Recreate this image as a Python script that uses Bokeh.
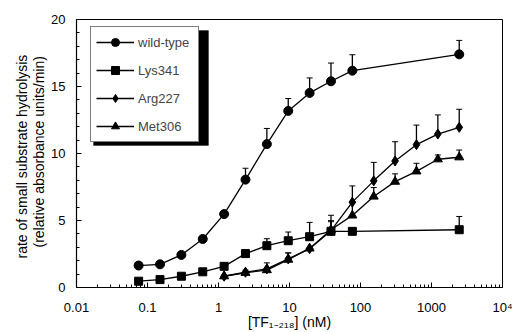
from bokeh.plotting import figure
from bokeh.models import (ColumnDataSource, Whisker, TeeHead, Legend, LegendItem,
                          FixedTicker, BoxAnnotation, Title)
from bokeh.embed import file_html
from bokeh.resources import INLINE

# ---- data ----
conc_wt = [0.075, 0.15, 0.3, 0.6, 1.2, 2.4, 4.8, 9.6, 19.2, 38.4, 76.8, 2458]
wild_type = [1.64, 1.73, 2.43, 3.62, 5.48, 8.05, 10.7, 13.18, 14.52, 15.39, 16.18, 17.4]
wild_type_err = [0, 0, 0, 0, 0, 0.85, 1.17, 0.92, 1.12, 1.36, 1.19, 1.04]

conc_lys = [0.075, 0.15, 0.3, 0.6, 1.2, 2.4, 4.8, 9.6, 19.2, 38.4, 76.8, 2458]
lys341 = [0.47, 0.59, 0.84, 1.17, 1.58, 2.53, 3.12, 3.49, 3.79, 4.19, 4.19, 4.31]
lys341_err = [0, 0, 0, 0, 0, 0, 0.52, 0.65, 1.07, 0.8, 0, 0.99]

conc_mut = [1.2, 2.4, 4.8, 9.6, 19.2, 38.4, 76.8, 153.6, 307, 614, 1229, 2458]
arg227 = [0.84, 1.14, 1.39, 2.13, 2.9, 4.24, 6.37, 7.96, 9.44, 10.66, 11.45, 11.95]
arg227_err = [0, 0.15, 0.45, 0.45, 0, 1.15, 1.21, 1.38, 1.44, 1.46, 1.43, 1.35]
met306 = [0.84, 1.1, 1.3, 2.08, 2.92, 4.31, 5.38, 6.79, 7.9, 8.67, 9.57, 9.72]
met306_err = [0, 0, 0, 0.5, 0, 0.6, 0.99, 0.67, 0.58, 0.6, 0.32, 0.54]

x_tick_values = [0.01, 0.1, 1, 10, 100, 1000, 10000]
x_tick_labels = ["0.01", "0.1", "1", "10", "100", "1000", "10\u2074"]
y_tick_values = [0, 5, 10, 15, 20]
y_label_line1 = "rate of small substrate hydrolysis"
y_label_line2 = "(relative absorbance units/min)"
x_label = "[TF\u2081\u208b\u2082\u2081\u2088] (nM)"
legend_labels = ["wild-type", "Lys341", "Arg227", "Met306"]

FONT = "Liberation Sans"

p = figure(width=512, height=332, x_axis_type="log", x_range=(0.01, 10000),
           y_range=(0, 20), output_backend="svg", toolbar_location=None,
           min_border_left=76, min_border_right=10, min_border_top=19,
           min_border_bottom=44)
p.grid.visible = False
p.outline_line_color = "black"
p.outline_line_width = 1
p.background_fill_color = "white"

minor = [k * d for d in x_tick_values[:-1] for k in range(2, 10)]
p.xaxis.ticker = FixedTicker(ticks=x_tick_values, minor_ticks=minor)
p.xaxis.major_label_overrides = dict(zip(x_tick_values, x_tick_labels))
p.yaxis.ticker = FixedTicker(ticks=y_tick_values,
                             minor_ticks=[v for v in range(0, 21)])

for ax in (p.xaxis[0], p.yaxis[0]):
    ax.major_tick_in = 5
    ax.major_tick_out = 0
    ax.minor_tick_in = 3
    ax.minor_tick_out = 0
    ax.axis_line_color = "black"
    ax.axis_line_width = 1.2
    ax.major_label_text_font = FONT
    ax.major_label_text_font_size = "13px"
    ax.major_label_text_color = "black"
    ax.axis_label_text_font = FONT
    ax.axis_label_text_font_size = "14px"
    ax.axis_label_text_font_style = "normal"
    ax.axis_label_text_color = "black"

p.xaxis.major_label_standoff = 12
p.xaxis.axis_label_standoff = -4
p.xaxis.axis_label = x_label
p.yaxis.major_label_standoff = 11

# two-line y-axis title: line 2 sits next to the axis, line 1 outside it
p.add_layout(Title(text=y_label_line2, align="left", offset=40, standoff=3,
                   text_font=FONT, text_font_size="14px",
                   text_font_style="normal", text_color="black"), "left")
p.add_layout(Title(text=y_label_line1, align="left", offset=29, standoff=-4,
                   text_font=FONT, text_font_size="14px",
                   text_font_style="normal", text_color="black"), "left")


def add_series(xs, ys, errs, marker, size):
    src = ColumnDataSource(dict(x=xs, y=ys,
                                top=[a + b for a, b in zip(ys, errs)]))
    w = Whisker(source=src, base="x", lower="y", upper="top",
                upper_head=TeeHead(size=6, line_color="black", line_width=1),
                lower_head=None, line_color="black", line_width=1.3)
    p.add_layout(w)
    ln = p.line("x", "y", source=src, line_color="black", line_width=1.3)
    sc = p.scatter("x", "y", source=src, marker=marker, size=size,
                   fill_color="black", line_color="black")
    return ln, sc


wt = add_series(conc_wt, wild_type, wild_type_err, "circle", 9)
ly = add_series(conc_lys, lys341, lys341_err, "square", 8)
ar = add_series(conc_mut, arg227, arg227_err, "diamond", 10)
me = add_series(conc_mut, met306, met306_err, "triangle", 9)

LX, LY, LW, LH = 14, 145, 115, 115
shadow = BoxAnnotation(left=LX + 3, right=LX + LW + 3, bottom=LY - 3, top=LY + LH - 3,
                       left_units="screen", right_units="screen",
                       top_units="screen", bottom_units="screen",
                       fill_color="black", fill_alpha=1, line_color="black")
p.add_layout(shadow)

legend = Legend(items=[LegendItem(label=lab, renderers=list(r))
                       for lab, r in zip(legend_labels, (wt, ly, ar, me))],
                location=(LX, LY), padding=5, spacing=8, glyph_width=38,
                glyph_height=20, label_height=20, label_width=55,
                label_standoff=4, margin=0,
                label_text_font=FONT, label_text_font_size="13px",
                border_line_color="black", border_line_width=1.2,
                background_fill_color="white", background_fill_alpha=1)
p.add_layout(legend)

open("out.html", "w").write(file_html(p, INLINE))
